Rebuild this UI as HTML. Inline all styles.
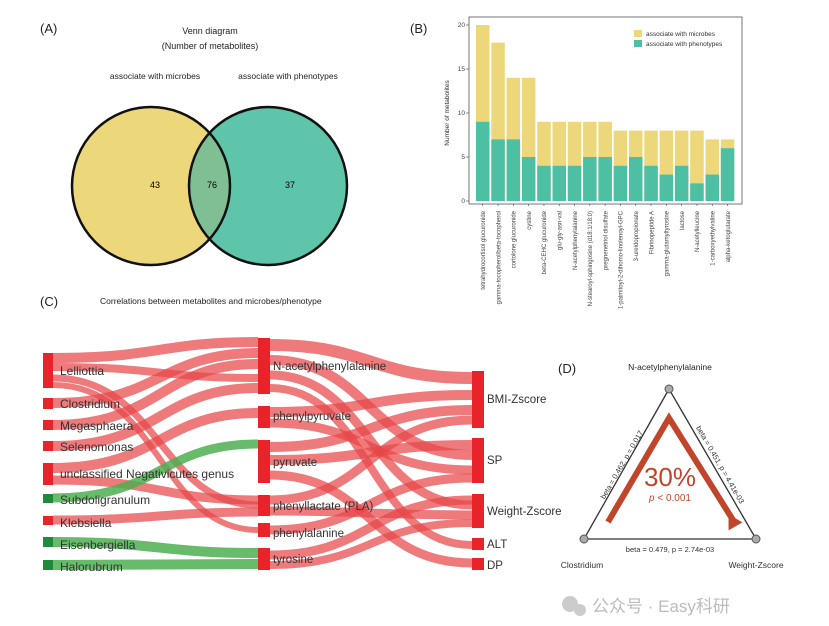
<!DOCTYPE html>
<html><head><meta charset="utf-8"><style>
body{margin:0;background:#fff;}
svg{display:block;font-family:"Liberation Sans","Noto Sans CJK SC",sans-serif;}
</style></head><body>
<svg width="829" height="626" viewBox="0 0 829 626" xmlns="http://www.w3.org/2000/svg">
<rect width="829" height="626" fill="#fff"/>
<!-- (A) Venn -->
<text x="40" y="33" font-size="13" fill="#222">(A)</text>
<text x="210" y="34" font-size="9" text-anchor="middle" fill="#222">Venn diagram</text>
<text x="210" y="49" font-size="9" text-anchor="middle" fill="#222">(Number of metabolites)</text>
<text x="155" y="79" font-size="8.5" text-anchor="middle" fill="#222">associate with microbes</text>
<text x="288" y="79" font-size="8.5" text-anchor="middle" fill="#222">associate with phenotypes</text>
<circle cx="151" cy="186" r="79" fill="#ecd77a"/>
<circle cx="268" cy="186" r="79" fill="#4dbfa2" fill-opacity="0.9"/>
<clipPath id="cl"><circle cx="151" cy="186" r="79"/></clipPath>
<circle cx="268" cy="186" r="79" fill="#7fbf93" clip-path="url(#cl)"/>
<circle cx="151" cy="186" r="79" fill="none" stroke="#111" stroke-width="2.5"/>
<circle cx="268" cy="186" r="79" fill="none" stroke="#111" stroke-width="2.5"/>
<text x="155" y="188" font-size="9" text-anchor="middle">43</text>
<text x="212" y="188" font-size="9" text-anchor="middle">76</text>
<text x="290" y="188" font-size="9" text-anchor="middle">37</text>

<!-- (B) Bar chart -->
<text x="410" y="33" font-size="13" fill="#222">(B)</text>
<rect x="469" y="17" width="273" height="187" fill="#fff" stroke="#555" stroke-width="0.8"/>
<g font-size="6.5" fill="#444" text-anchor="end">
<text x="465" y="203">0</text><text x="465" y="159">5</text><text x="465" y="115">10</text><text x="465" y="71">15</text><text x="465" y="27">20</text>
</g>
<g stroke="#444" stroke-width="0.6"><line x1="466" y1="201" x2="469" y2="201"/><line x1="466" y1="157" x2="469" y2="157"/><line x1="466" y1="113" x2="469" y2="113"/><line x1="466" y1="69" x2="469" y2="69"/><line x1="466" y1="25" x2="469" y2="25"/></g>
<text transform="translate(449,113) rotate(-90)" font-size="6.5" text-anchor="middle" fill="#333">Number of metabolites</text>
<g id="bars"></g>
<rect x="634" y="30" width="8" height="7" fill="#ecd77a"/><text x="646" y="36" font-size="6.5" fill="#333">associate with microbes</text>
<rect x="634" y="40" width="8" height="7" fill="#4dbfa2"/><text x="646" y="46" font-size="6.5" fill="#333">associate with phenotypes</text>

<!-- (C) Sankey -->
<text x="40" y="306" font-size="13" fill="#222">(C)</text>
<text x="100" y="304" font-size="8.5" fill="#222">Correlations between metabolites and microbes/phenotype</text>
<g fill="none" stroke-opacity="0.72">
<g stroke="#e8474a">
<path d="M53,358 C160,358 160,342 258,342" stroke-width="10"/>
<path d="M53,367 C160,367 160,378 258,378" stroke-width="8"/>
<path d="M53,378 C160,378 160,505 258,505" stroke-width="7"/>
<path d="M53,385 C160,385 160,530 258,530" stroke-width="6"/>
<path d="M53,403 C160,403 160,353 258,353" stroke-width="10"/>
<path d="M53,425 C160,425 160,364 258,364" stroke-width="10"/>
<path d="M53,446 C160,446 160,388 258,388" stroke-width="10"/>
<path d="M53,468 C160,468 160,413 258,413" stroke-width="10"/>
<path d="M53,480 C160,480 160,500 258,500" stroke-width="9"/>
<path d="M53,520 C160,520 160,512 258,512" stroke-width="9"/>
<path d="M270,345 C370,345 370,378 472,378" stroke-width="12"/>
<path d="M270,360 C370,360 370,455 472,455" stroke-width="10"/>
<path d="M270,375 C370,375 370,505 472,505" stroke-width="9"/>
<path d="M270,388 C370,388 370,545 472,545" stroke-width="8"/>
<path d="M270,412 C370,412 370,395 472,395" stroke-width="10"/>
<path d="M270,423 C370,423 370,470 472,470" stroke-width="9"/>
<path d="M270,447 C370,447 370,410 472,410" stroke-width="10"/>
<path d="M270,460 C370,460 370,445 472,445" stroke-width="10"/>
<path d="M270,475 C370,475 370,563 472,563" stroke-width="9"/>
<path d="M270,500 C370,500 370,420 472,420" stroke-width="9"/>
<path d="M270,511 C370,511 370,515 472,515" stroke-width="9"/>
<path d="M270,530 C370,530 370,478 472,478" stroke-width="9"/>
<path d="M270,555 C370,555 370,500 472,500" stroke-width="9"/>
<path d="M270,565 C370,565 370,523 472,523" stroke-width="8"/>
</g>
<g stroke="#4caf50" stroke-opacity="0.85">
<path d="M53,498 C160,498 160,444 258,444" stroke-width="9"/>
<path d="M53,542 C160,542 160,553 258,553" stroke-width="10"/>
<path d="M53,565 C160,565 160,564 258,564" stroke-width="10"/>
</g>
</g>
<g fill="#e8232a">
<rect x="43" y="353" width="10" height="35"/><rect x="43" y="398" width="10" height="11"/><rect x="43" y="420" width="10" height="10"/><rect x="43" y="441" width="10" height="10"/><rect x="43" y="463" width="10" height="22"/><rect x="43" y="516" width="10" height="9"/>
<rect x="258" y="338" width="12" height="56"/><rect x="258" y="406" width="12" height="22"/><rect x="258" y="440" width="12" height="43"/><rect x="258" y="495" width="12" height="21"/><rect x="258" y="523" width="12" height="14"/><rect x="258" y="548" width="12" height="22"/>
<rect x="472" y="371" width="12" height="57"/><rect x="472" y="438" width="12" height="45"/><rect x="472" y="494" width="12" height="34"/><rect x="472" y="538" width="12" height="12"/><rect x="472" y="558" width="12" height="12"/>
</g>
<g fill="#1e8a3a"><rect x="43" y="494" width="10" height="9"/><rect x="43" y="537" width="10" height="10"/><rect x="43" y="560" width="10" height="10"/></g>
<g font-size="12" fill="#333">
<text x="60" y="375">Lelliottia</text><text x="60" y="408">Clostridium</text><text x="60" y="430">Megasphaera</text><text x="60" y="451">Selenomonas</text><text x="60" y="478">unclassified Negativicutes genus</text><text x="60" y="504">Subdoligranulum</text><text x="60" y="527">Klebsiella</text><text x="60" y="549">Eisenbergiella</text><text x="60" y="571">Halorubrum</text>
</g>
<g font-size="11.5" fill="#333">
<text x="273" y="370">N-acetylphenylalanine</text><text x="273" y="420">phenylpyruvate</text><text x="273" y="466">pyruvate</text><text x="273" y="510">phenyllactate (PLA)</text><text x="273" y="537">phenylalanine</text><text x="273" y="563">tyrosine</text>
<text x="487" y="403">BMI-Zscore</text><text x="487" y="464">SP</text><text x="487" y="515">Weight-Zscore</text><text x="487" y="548">ALT</text><text x="487" y="569">DP</text>
</g>

<!-- (D) -->
<text x="558" y="373" font-size="13" fill="#222">(D)</text>
<text x="670" y="370" font-size="8.5" text-anchor="middle" fill="#222">N-acetylphenylalanine</text>
<g stroke="#333" stroke-width="1.3"><line x1="669" y1="389" x2="584" y2="539"/><line x1="669" y1="389" x2="756" y2="539"/><line x1="584" y1="539" x2="756" y2="539"/></g>
<g fill="#aaa" stroke="#555" stroke-width="1"><circle cx="669" cy="389" r="4"/><circle cx="584" cy="539" r="4"/><circle cx="756" cy="539" r="4"/></g>
<path d="M608,522 L669,418 L733,520" fill="none" stroke="#c0452a" stroke-width="6"/>
<polygon points="738,530 724,522 738,514" fill="#c0452a" transform="rotate(60 733 522)"/>
<text x="670" y="486" font-size="26" text-anchor="middle" fill="#c0452a">30%</text>
<text x="670" y="501" font-size="10" text-anchor="middle" fill="#c0452a"><tspan font-style="italic">p</tspan> &lt; 0.001</text>
<text transform="translate(624,466) rotate(-60)" font-size="7.5" text-anchor="middle" fill="#333">beta = 0.462, p = 0.017</text>
<text transform="translate(718,466) rotate(60)" font-size="7.5" text-anchor="middle" fill="#333">beta = 0.451, p = 4.41e-03</text>
<text x="670" y="552" font-size="7.5" text-anchor="middle" fill="#333">beta = 0.479, p = 2.74e-03</text>
<text x="582" y="568" font-size="8.5" text-anchor="middle" fill="#333">Clostridium</text>
<text x="756" y="568" font-size="8.5" text-anchor="middle" fill="#333">Weight-Zscore</text>
<circle cx="570" cy="604" r="8" fill="#ccc"/><circle cx="580" cy="610" r="6" fill="#ccc"/>
<text x="592" y="612" font-size="17" fill="#bbb">公众号 · Easy科研</text>
</svg>
<script>
var tot=[20,18,14,14,9,9,9,9,9,8,8,8,8,8,8,7,7],gr=[9,7,7,5,4,4,4,5,5,4,5,4,3,4,2,3,6];
var lab=["tetrahydrocortisol glucuronide","gamma-tocopherol/beta-tocopherol","cortolone glucuronide","cystine","beta-CEHC glucuronide","glu-gly-asn-val","N-acetylphenylalanine","N-stearoyl-sphingosine (d18:1/18:0)","pregnenetriol disulfate","1-palmitoyl-2-dihomo-linolenoyl-GPC","3-ureidopropionate","Fibrinopeptide A","gamma-glutamyltyrosine","lactose","N-acetylleucine","1-carboxyethylvaline","alpha-ketoglutarate"];
var g=document.getElementById('bars'),h='';
for(var i=0;i<17;i++){var x=476+i*15.3,y0=201,s=8.8;
h+='<rect x="'+x+'" y="'+(y0-tot[i]*s)+'" width="13.5" height="'+(tot[i]*s)+'" fill="#ecd77a"/>';
h+='<rect x="'+x+'" y="'+(y0-gr[i]*s)+'" width="13.5" height="'+(gr[i]*s)+'" fill="#4dbfa2"/>';
h+='<line x1="'+(x+6.75)+'" y1="204" x2="'+(x+6.75)+'" y2="206" stroke="#444" stroke-width="0.6"/>';
h+='<text transform="translate('+(x+9)+',211) rotate(-90)" font-size="6" text-anchor="end" fill="#444">'+lab[i]+'</text>';}
g.innerHTML=h;
</script>
</body></html>
